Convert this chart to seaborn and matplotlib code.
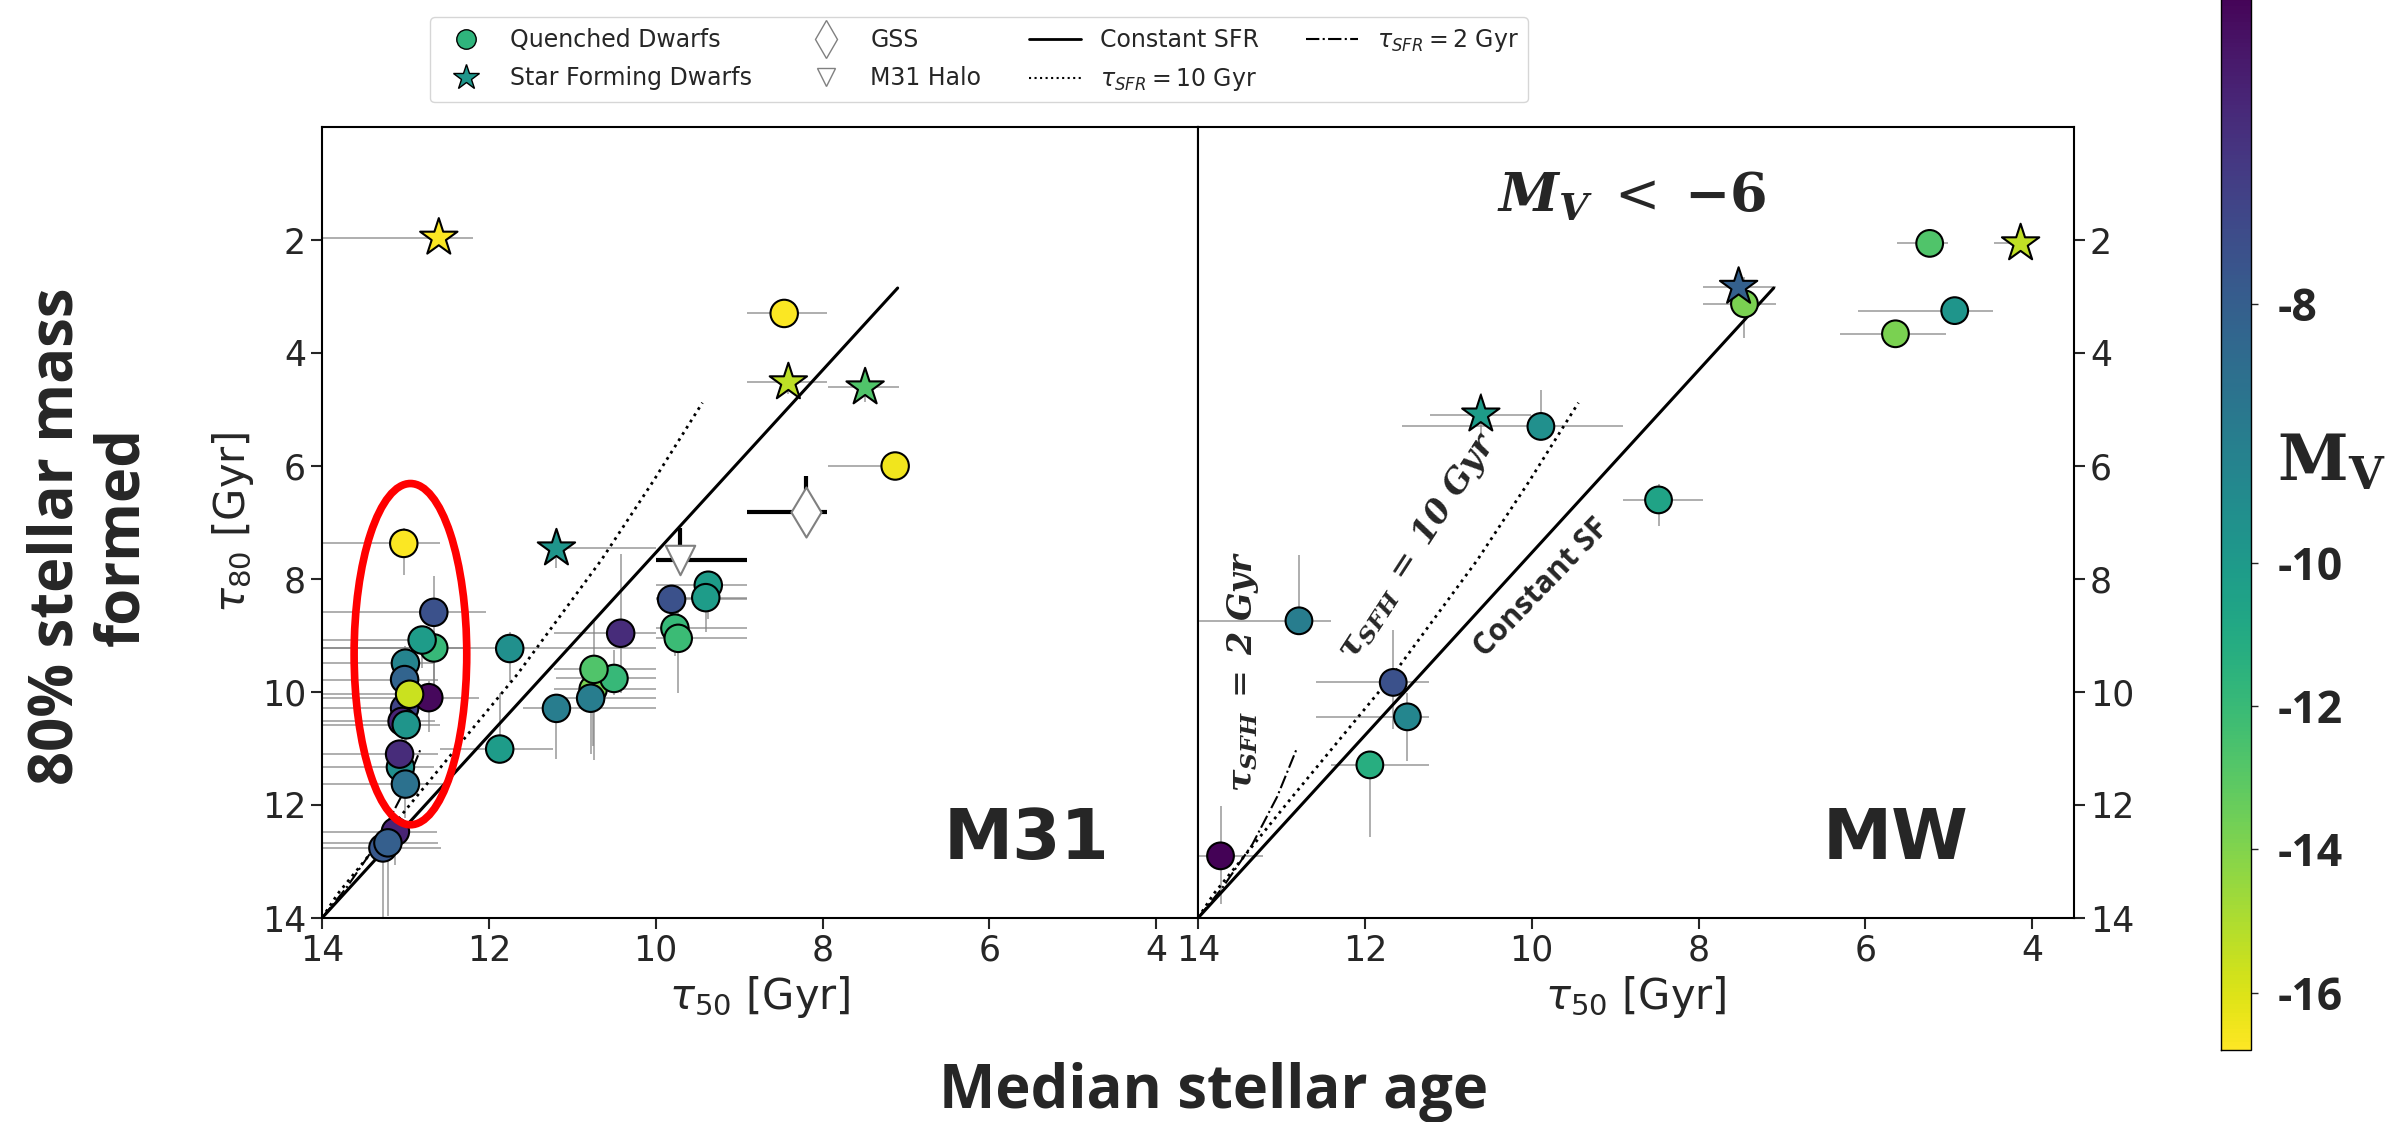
import matplotlib
matplotlib.use("Agg")
import matplotlib.pyplot as plt
import seaborn as sns
from matplotlib.patches import Ellipse
from matplotlib.lines import Line2D
from matplotlib.colors import Normalize
from matplotlib.cm import ScalarMappable

sns.set_style("ticks")
plt.rcParams["font.family"] = ["DejaVu Sans"]
plt.rcParams["mathtext.fontset"] = "dejavusans"
plt.rcParams["axes.edgecolor"] = "black"
plt.rcParams["axes.linewidth"] = 1.5

# ---- M31 dwarfs, quenched (circles) ----
m31_x = [13.02, 12.66, 12.66, 12.80, 13.00, 13.01, 12.72, 13.01, 12.95, 13.04, 12.99,
         13.06, 13.07, 13.00, 13.12, 13.27, 13.21, 11.75, 11.87, 11.19, 10.75, 10.50,
         10.74, 10.78, 10.42, 9.81, 9.37, 9.40, 9.77, 9.73, 8.46, 7.13]
m31_y = [7.37, 8.59, 9.22, 9.08, 9.49, 9.78, 10.10, 10.29, 10.04, 10.52, 10.58,
         11.33, 11.10, 11.63, 12.47, 12.76, 12.67, 9.23, 11.01, 10.29, 9.95, 9.76,
         9.60, 10.11, 8.96, 8.36, 8.11, 8.33, 8.87, 9.05, 3.30, 6.00]
m31_mv = [-16.7, -5.7, -11.9, -10.1, -8.7, -6.7, -2.3, -5.0, -15.6, -3.5, -9.7,
          -9.4, -3.8, -7.5, -3.5, -6.0, -6.4, -9.4, -10.1, -8.2, -13.8, -11.9,
          -12.7, -8.2, -3.8, -5.7, -10.1, -10.1, -11.9, -12.1, -16.7, -16.5]
m31_xm = [0.43, 0.63, 0.35, 0.20, 0.35, 0.40, 0.60, 0.40, 0.35, 0.40, 0.40,
          0.40, 0.46, 0.45, 0.50, 0.70, 0.60, 1.75, 0.64, 1.19, 0.75, 0.50,
          0.74, 0.78, 0.42, 0.90, 0.46, 0.49, 0.86, 0.82, 0.51, 0.00]
m31_xp = [1.20, 1.50, 1.40, 1.30, 1.10, 1.10, 1.40, 1.10, 1.10, 1.00, 1.10,
          1.00, 1.00, 1.00, 1.00, 0.80, 0.90, 2.30, 0.71, 0.40, 0.47, 0.70,
          0.48, 0.45, 0.80, 0.19, 0.63, 0.60, 0.23, 0.27, 0.44, 0.81]
m31_ym = [0.28, 0.64, 0.30, 0.20, 0.30, 0.30, 0.30, 0.30, 0.30, 0.30, 0.30,
          0.30, 0.20, 0.30, 0.20, 0.30, 0.30, 0.30, 0.99, 0.10, 0.20, 0.50,
          0.84, 0.30, 1.40, 0.20, 0.20, 0.20, 0.20, 0.60, 0.00, 0.20]
m31_yp = [0.56, 1.26, 0.90, 0.50, 0.80, 0.70, 0.60, 0.80, 0.50, 0.90, 0.80,
          0.50, 0.60, 0.60, 0.60, 1.30, 1.30, 0.60, 0.10, 0.90, 1.00, 0.30,
          1.60, 0.98, 1.05, 0.50, 0.60, 0.60, 0.50, 0.96, 0.00, 0.18]

# ---- M31 dwarfs, star forming (stars) ----
m31s_x = [12.60, 8.41, 7.49, 11.19]
m31s_y = [1.96, 4.52, 4.61, 7.46]
m31s_mv = [-16.7, -15.3, -12.7, -9.7]
m31s_xm = [0.41, 0.46, 0.41, 1.19]
m31s_xp = [1.50, 0.49, 0.45, 0.00]
m31s_ym = [0.00, 0.00, 0.00, 0.30]
m31s_yp = [0.00, 0.20, 0.25, 0.35]

# ---- GSS and M31 halo ----
gss_x, gss_y = [8.20], [6.82]
gss_xerr = [[0.25], [0.70]]
gss_yerr = [[0.64], [0.00]]
halo_x, halo_y = [9.71], [7.67]
halo_xerr = [[0.80], [0.29]]
halo_yerr = [[0.58], [0.00]]

# ---- MW dwarfs, quenched ----
mw_x = [13.73, 12.79, 11.94, 11.49, 11.66, 9.89, 8.48, 7.45, 5.23, 4.93, 5.64]
mw_y = [12.90, 8.74, 11.29, 10.44, 9.83, 5.30, 6.60, 3.13, 2.06, 3.25, 3.66]
mw_mv = [-2.1, -8.2, -11.3, -8.8, -5.7, -9.4, -10.6, -13.8, -12.7, -9.7, -13.8]
mw_xm = [0.51, 0.39, 0.71, 0.26, 0.43, 0.98, 0.53, 0.38, 0.22, 0.46, 0.60]
mw_xp = [0.30, 1.30, 0.46, 1.09, 0.92, 1.67, 0.43, 0.50, 0.39, 1.16, 0.66]
mw_ym = [0.88, 1.16, 0.00, 0.42, 0.93, 0.65, 0.28, 0.47, 0.00, 0.00, 0.10]
mw_yp = [0.86, 0.00, 1.28, 0.78, 0.83, 0.23, 0.46, 0.60, 0.00, 0.00, 0.10]

# ---- MW dwarfs, star forming ----
mws_x = [10.61, 7.52, 4.14]
mws_y = [5.09, 2.83, 2.06]
mws_mv = [-10.1, -6.5, -15.4]
mws_xm = [0.60, 0.45, 0.00]
mws_xp = [0.61, 0.43, 0.32]
mws_ym = [0.39, 0.00, 0.00]
mws_yp = [0.35, 0.00, 0.00]

# ---- model tracks ----
const_x = [14.0, 7.1]
const_y = [14.0, 2.85]
tau10_x = [14.0, 13.81, 12.85, 11.66, 10.65, 10.03, 9.44]
tau10_y = [14.0, 13.57, 11.82, 9.69, 7.66, 6.27, 4.88]
tau2_x = [14.0, 13.70, 13.35, 13.05, 12.81]
tau2_y = [14.0, 13.45, 12.70, 11.85, 10.98]

norm = Normalize(vmin=-16.8, vmax=-2.0)
cmap = "viridis_r"

fig = plt.figure(figsize=(24.02, 11.22), dpi=100)
ax1 = fig.add_axes([322 / 2402, 1 - 918 / 1122, 876 / 2402, 791 / 1122])
ax2 = fig.add_axes([1198 / 2402, 1 - 918 / 1122, 876 / 2402, 791 / 1122])


def draw_dwarfs(ax, x, y, mv, xm, xp, ym, yp, marker, size):
    ax.errorbar(x, y, xerr=[xm, xp], yerr=[ym, yp], fmt="none", ecolor="grey",
                elinewidth=1.1, alpha=0.8, zorder=2)
    sns.scatterplot(x=x, y=y, hue=mv, palette=cmap, hue_norm=norm, marker=marker,
                    s=size, edgecolor="black", linewidth=1.5, legend=False, ax=ax, zorder=5)


for ax in (ax1, ax2):
    ax.plot(const_x, const_y, color="black", lw=2.2, ls="-", zorder=3)
    ax.plot(tau10_x, tau10_y, color="black", lw=2, ls=":", zorder=3)
    ax.plot(tau2_x, tau2_y, color="black", lw=1.5, ls="-.", zorder=3)

# left panel: M31
draw_dwarfs(ax1, m31_x, m31_y, m31_mv, m31_xm, m31_xp, m31_ym, m31_yp, "o", 390)
ax1.errorbar(gss_x, gss_y, xerr=gss_xerr, yerr=gss_yerr, fmt="none", ecolor="black",
             elinewidth=3, zorder=3)
ax1.errorbar(halo_x, halo_y, xerr=halo_xerr, yerr=halo_yerr, fmt="none", ecolor="black",
             elinewidth=3, zorder=3)
ax1.scatter(gss_x, gss_y, marker="d", s=650, facecolor="white", edgecolor="grey",
            linewidth=1.5, zorder=6)
ax1.scatter(halo_x, halo_y, marker="v", s=450, facecolor="white", edgecolor="grey",
            linewidth=1.5, zorder=6)
draw_dwarfs(ax1, m31s_x, m31s_y, m31s_mv, m31s_xm, m31s_xp, m31s_ym, m31s_yp, "*", 800)
ax1.add_patch(Ellipse((12.94, 9.33), width=1.35, height=6.04, fill=False,
                      edgecolor="red", lw=5.5, zorder=7))

# right panel: MW
draw_dwarfs(ax2, mw_x, mw_y, mw_mv, mw_xm, mw_xp, mw_ym, mw_yp, "o", 370)
draw_dwarfs(ax2, mws_x, mws_y, mws_mv, mws_xm, mws_xp, mws_ym, mws_yp, "*", 800)

for ax in (ax1, ax2):
    ax.set_xlim(14, 3.5)
    ax.set_ylim(14, 0)
    ax.set_xticks([14, 12, 10, 8, 6, 4])
    ax.set_yticks([2, 4, 6, 8, 10, 12, 14])
    ax.tick_params(labelsize=25, length=8, width=1.5, direction="out")
    ax.set_xlabel(r"$\tau_{50}$ [Gyr]", fontsize=30)

ax1.set_ylabel(r"$\tau_{80}$ [Gyr]", fontsize=30)
ax2.yaxis.tick_right()
ax2.set_ylabel("")

ax1.text(0.804, 0.099, "M31", transform=ax1.transAxes, fontsize=50, fontweight="bold",
         ha="center", va="center")
ax2.text(0.796, 0.099, "MW", transform=ax2.transAxes, fontsize=50, fontweight="bold",
         ha="center", va="center")
ax2.text(0.495, 0.912, r"$\mathbfit{M_V}\;<\;\mathbf{-6}$", transform=ax2.transAxes,
         fontsize=39, math_fontfamily="dejavuserif", ha="center", va="center")
ax2.text(0.251, 0.470, r"$\mathbfit{\tau_{SFH}}\;=\;\mathbfit{10\ Gyr}$",
         transform=ax2.transAxes, fontsize=24, math_fontfamily="dejavuserif", rotation=57,
         ha="center", va="center", rotation_mode="anchor")
ax2.text(0.051, 0.311, r"$\mathbfit{\tau_{SFH}}\;=\;\mathbfit{2\ Gyr}$",
         transform=ax2.transAxes, fontsize=24, math_fontfamily="dejavuserif", rotation=90,
         ha="center", va="center", rotation_mode="anchor")
ax2.text(0.392, 0.417, "Constant SF", transform=ax2.transAxes, fontsize=22,
         family="Open Sans", fontweight="bold", rotation=46,
         ha="center", va="center", rotation_mode="anchor")

# big axis titles
fig.text(0.5054, 1 - 1108 / 1122, "Median stellar age", fontsize=43, family="Open Sans",
         fontweight="bold", ha="center", va="baseline")
fig.text(90 / 2402, 1 - 536 / 1122, "80% stellar mass\nformed", fontsize=43,
         family="Open Sans", fontweight="bold", rotation=90, ha="center", va="center",
         multialignment="center", linespacing=1.1)

# colorbar
cax = fig.add_axes([2221 / 2402, 1 - 1050 / 1122, 30 / 2402, 1061 / 1122])
cb = fig.colorbar(ScalarMappable(norm=norm, cmap=cmap), cax=cax)
cb.set_ticks([-16, -14, -12, -10, -6.4])
cb.set_ticklabels(["-16", "-14", "-12", "-10", "-8"])
cb.ax.tick_params(labelsize=32, length=5, width=1, pad=14)
for t in cb.ax.get_yticklabels():
    t.set_fontweight("bold")
    t.set_family("Open Sans")
cb.outline.set_linewidth(1)
fig.text(2277 / 2402, 1 - 463 / 1122, r"M$_\mathbf{V}$", fontsize=46, fontweight="bold",
         family="DejaVu Serif", math_fontfamily="dejavuserif", ha="left", va="center")

# legend
handles = [
    Line2D([], [], ls="none", marker="o", ms=14, mfc="#2fb47c", mec="black"),
    Line2D([], [], ls="none", marker="*", ms=19, mfc="#1f968b", mec="black"),
    Line2D([], [], ls="none", marker="d", ms=19, mfc="white", mec="grey"),
    Line2D([], [], ls="none", marker="v", ms=13, mfc="white", mec="grey"),
    Line2D([], [], color="black", lw=2, ls="-"),
    Line2D([], [], color="black", lw=1.5, ls=":"),
    Line2D([], [], color="black", lw=1.5, ls="-."),
]
labels = ["Quenched Dwarfs", "Star Forming Dwarfs", "GSS", "M31 Halo", "Constant SFR",
          r"$\tau_{SFR} = 10$ Gyr", r"$\tau_{SFR} = 2$ Gyr"]
fig.legend(handles, labels, loc="upper center", bbox_to_anchor=(0.4076, 0.995), ncol=4,
           fontsize=17, frameon=True, handlelength=2.2, labelspacing=0.6)

fig.savefig("out.png", dpi=100)
